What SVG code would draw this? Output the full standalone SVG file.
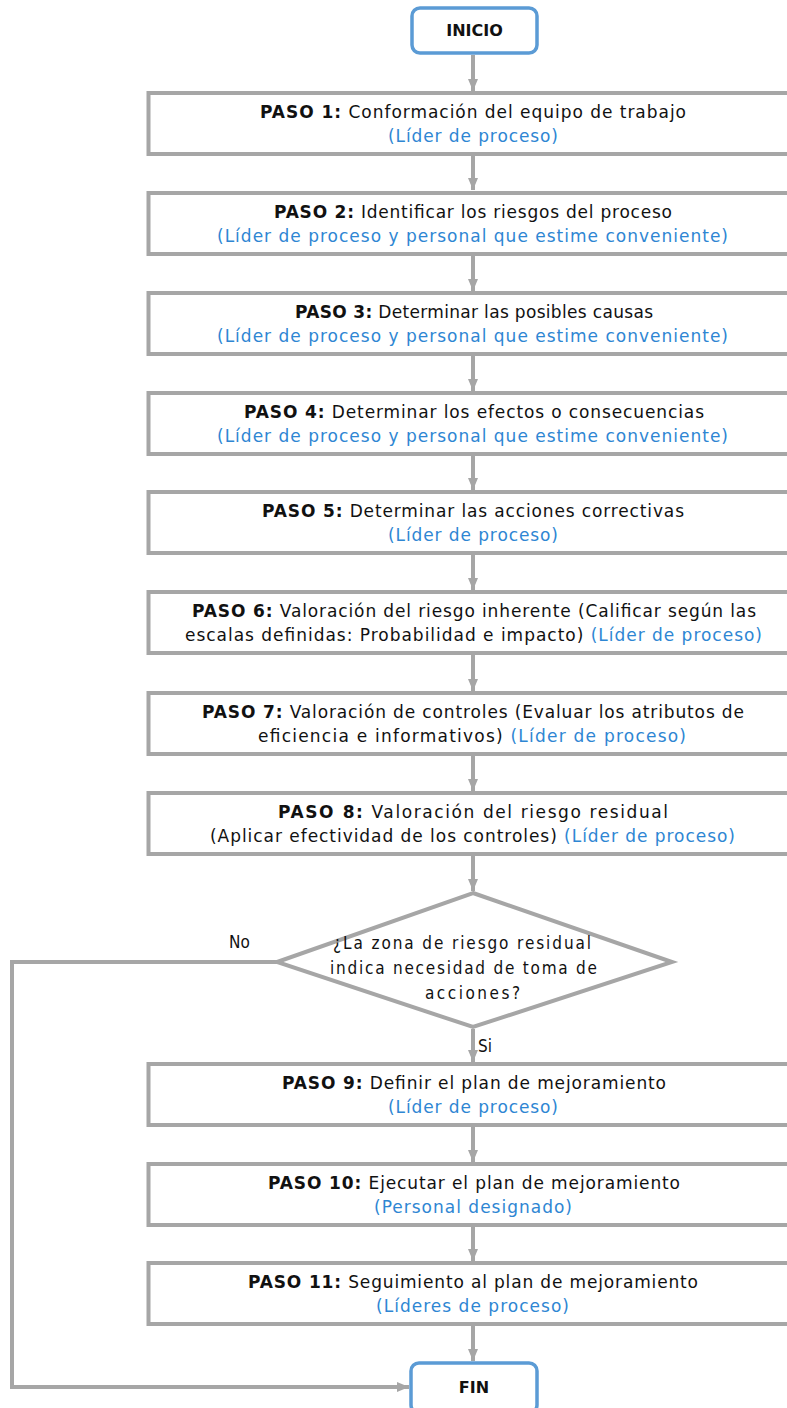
<svg xmlns="http://www.w3.org/2000/svg" width="787" height="1408" viewBox="0 0 787 1408">
<style>
.bg{fill:#ffffff}
.term{fill:#ffffff;stroke:#5B9BD5;stroke-width:3.5}
.box{fill:#ffffff;stroke:#A6A6A6;stroke-width:4}
.dec{fill:#ffffff;stroke:#A6A6A6;stroke-width:4}
.conn{fill:none;stroke:#A6A6A6;stroke-width:4}
.t{font-family:"DejaVu Sans","Liberation Sans",sans-serif;font-size:17px;fill:#111111}
.tt{font-family:"DejaVu Sans","Liberation Sans",sans-serif;font-size:16px;font-weight:bold;fill:#111111}
.b{font-weight:bold}
.blue{fill:#2E86D3}
.c{font-family:"DejaVu Sans Condensed","Liberation Sans Narrow","DejaVu Sans",sans-serif;font-stretch:condensed;font-size:17px;fill:#111111}
</style>
<defs>
<marker id="ah" viewBox="0 0 12 10" refX="12" refY="5" markerWidth="12" markerHeight="10" orient="auto" markerUnits="userSpaceOnUse">
<path d="M0,0 L12,5 L0,10 z" fill="#A6A6A6"/>
</marker>
</defs>
<rect class="bg" x="0" y="0" width="787" height="1408"/>

<g id="connectors">
<line class="conn" x1="473" y1="55" x2="473" y2="91" marker-end="url(#ah)"/>
<line class="conn" x1="473" y1="156" x2="473" y2="190" marker-end="url(#ah)"/>
<line class="conn" x1="473" y1="255" x2="473" y2="291" marker-end="url(#ah)"/>
<line class="conn" x1="473" y1="355" x2="473" y2="391" marker-end="url(#ah)"/>
<line class="conn" x1="473" y1="455" x2="473" y2="490" marker-end="url(#ah)"/>
<line class="conn" x1="473" y1="555" x2="473" y2="590" marker-end="url(#ah)"/>
<line class="conn" x1="473" y1="655" x2="473" y2="691" marker-end="url(#ah)"/>
<line class="conn" x1="473" y1="755" x2="473" y2="791" marker-end="url(#ah)"/>
<line class="conn" x1="473" y1="856" x2="473" y2="891" marker-end="url(#ah)"/>
<line class="conn" x1="473" y1="1029" x2="473" y2="1062" marker-end="url(#ah)"/>
<line class="conn" x1="473" y1="1127" x2="473" y2="1162" marker-end="url(#ah)"/>
<line class="conn" x1="473" y1="1226" x2="473" y2="1261" marker-end="url(#ah)"/>
<line class="conn" x1="473" y1="1326" x2="473" y2="1361" marker-end="url(#ah)"/>
<polyline class="conn" points="277,962 12,962 12,1387 409,1387" marker-end="url(#ah)"/>
<text class="c" x="229" y="948">No</text>
<text class="c" x="478" y="1052">Si</text>
</g>

<g id="inicio">
<rect class="term" x="412" y="8" width="125" height="45" rx="8"/>
<text class="tt" x="474.5" y="36" text-anchor="middle">INICIO</text>
</g>

<g id="paso1">
<rect class="box" x="148.5" y="93" width="650" height="61"/>
<text class="t" x="260" y="118" textLength="426" lengthAdjust="spacing"><tspan class="b">PASO 1:</tspan> Conformación del equipo de trabajo</text>
<text class="t blue" x="388" y="142" textLength="170" lengthAdjust="spacing">(Líder de proceso)</text>
</g>

<g id="paso2">
<rect class="box" x="148.5" y="193" width="650" height="61"/>
<text class="t" x="274" y="218" textLength="398" lengthAdjust="spacing"><tspan class="b">PASO 2:</tspan> Identificar los riesgos del proceso</text>
<text class="t blue" x="217" y="242" textLength="511" lengthAdjust="spacing">(Líder de proceso y personal que estime conveniente)</text>
</g>

<g id="paso3">
<rect class="box" x="148.5" y="293" width="650" height="61"/>
<text class="t" x="295" y="318" textLength="358" lengthAdjust="spacing"><tspan class="b">PASO 3:</tspan> Determinar las posibles causas</text>
<text class="t blue" x="217" y="342" textLength="511" lengthAdjust="spacing">(Líder de proceso y personal que estime conveniente)</text>
</g>

<g id="paso4">
<rect class="box" x="148.5" y="393" width="650" height="61"/>
<text class="t" x="244" y="418" textLength="460" lengthAdjust="spacing"><tspan class="b">PASO 4:</tspan> Determinar los efectos o consecuencias</text>
<text class="t blue" x="217" y="442" textLength="511" lengthAdjust="spacing">(Líder de proceso y personal que estime conveniente)</text>
</g>

<g id="paso5">
<rect class="box" x="148.5" y="492" width="650" height="61"/>
<text class="t" x="262" y="517" textLength="422" lengthAdjust="spacing"><tspan class="b">PASO 5:</tspan> Determinar las acciones correctivas</text>
<text class="t blue" x="388" y="541" textLength="170" lengthAdjust="spacing">(Líder de proceso)</text>
</g>

<g id="paso6">
<rect class="box" x="148.5" y="592" width="650" height="61"/>
<text class="t" x="192" y="617" textLength="564" lengthAdjust="spacing"><tspan class="b">PASO 6:</tspan> Valoración del riesgo inherente (Calificar según las</text>
<text class="t" x="185" y="641" textLength="577" lengthAdjust="spacing">escalas definidas: Probabilidad e impacto) <tspan class="blue">(Líder de proceso)</tspan></text>
</g>

<g id="paso7">
<rect class="box" x="148.5" y="693" width="650" height="61"/>
<text class="t" x="202" y="718" textLength="542" lengthAdjust="spacing"><tspan class="b">PASO 7:</tspan> Valoración de controles (Evaluar los atributos de</text>
<text class="t" x="258" y="742" textLength="428" lengthAdjust="spacing">eficiencia e informativos) <tspan class="blue">(Líder de proceso)</tspan></text>
</g>

<g id="paso8">
<rect class="box" x="148.5" y="793" width="650" height="61"/>
<text class="t" x="278" y="818" textLength="390" lengthAdjust="spacing"><tspan class="b">PASO 8:</tspan> Valoración del riesgo residual</text>
<text class="t" x="210" y="842" textLength="525" lengthAdjust="spacing">(Aplicar efectividad de los controles) <tspan class="blue">(Líder de proceso)</tspan></text>
</g>

<g id="decision">
<polygon class="dec" points="473,893 672,962 473,1027 277,962"/>
<text class="c" x="333" y="949" textLength="258" lengthAdjust="spacing">¿La zona de riesgo residual</text>
<text class="c" x="330" y="974" textLength="267" lengthAdjust="spacing">indica necesidad de toma de</text>
<text class="c" x="425" y="999" textLength="95" lengthAdjust="spacing">acciones?</text>
</g>

<g id="paso9">
<rect class="box" x="148.5" y="1064" width="650" height="61"/>
<text class="t" x="282" y="1089" textLength="384" lengthAdjust="spacing"><tspan class="b">PASO 9:</tspan> Definir el plan de mejoramiento</text>
<text class="t blue" x="388" y="1113" textLength="170" lengthAdjust="spacing">(Líder de proceso)</text>
</g>

<g id="paso10">
<rect class="box" x="148.5" y="1164" width="650" height="61"/>
<text class="t" x="268" y="1189" textLength="412" lengthAdjust="spacing"><tspan class="b">PASO 10:</tspan> Ejecutar el plan de mejoramiento</text>
<text class="t blue" x="374" y="1213" textLength="198" lengthAdjust="spacing">(Personal designado)</text>
</g>

<g id="paso11">
<rect class="box" x="148.5" y="1263" width="650" height="61"/>
<text class="t" x="248" y="1288" textLength="450" lengthAdjust="spacing"><tspan class="b">PASO 11:</tspan> Seguimiento al plan de mejoramiento</text>
<text class="t blue" x="376" y="1312" textLength="193" lengthAdjust="spacing">(Líderes de proceso)</text>
</g>

<g id="fin">
<rect class="term" x="411" y="1363" width="126" height="50" rx="8"/>
<text class="tt" x="474" y="1393" text-anchor="middle">FIN</text>
</g>
</svg>
